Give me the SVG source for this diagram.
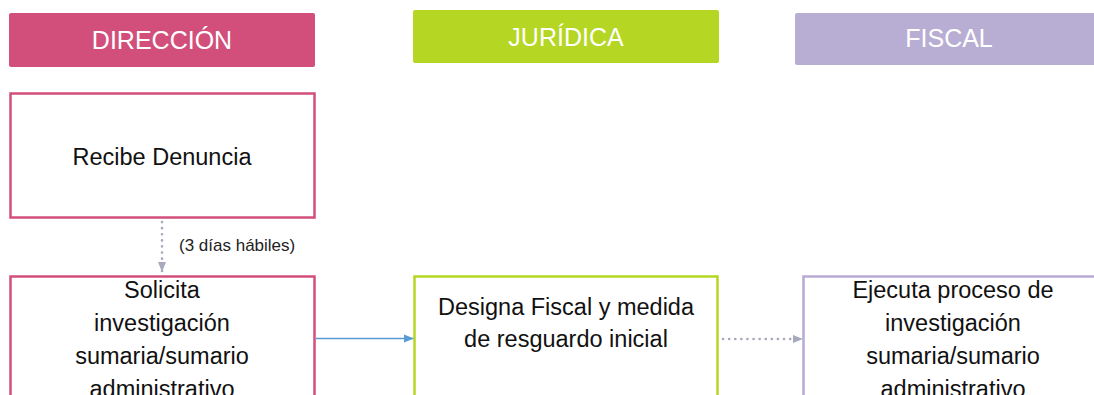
<svg xmlns="http://www.w3.org/2000/svg" width="1094" height="395" viewBox="0 0 1094 395">
<style>
.hdr{font-family:"Liberation Sans",Arial,sans-serif;font-size:25px;fill:#ffffff;text-anchor:middle}
.txt{font-family:"Liberation Sans",Arial,sans-serif;font-size:23.5px;fill:#111111;text-anchor:middle}
.lbl{font-family:"Liberation Sans",Arial,sans-serif;font-size:17px;fill:#222222}
.box{fill:#ffffff;stroke-width:2.5}
.pink{stroke:#D24F7C}
.green{stroke:#B5D623}
.purple{stroke:#B7ABD4}
</style>
<defs>
<marker id="arrBlue" markerWidth="10" markerHeight="10" refX="9" refY="5" orient="auto" markerUnits="userSpaceOnUse">
<path d="M0,1 L10,5 L0,9 Z" fill="#5B9BD5"/>
</marker>
<marker id="arrGray" markerWidth="10" markerHeight="10" refX="9" refY="5" orient="auto" markerUnits="userSpaceOnUse">
<path d="M0,1 L10,5 L0,9 Z" fill="#A7A9BC"/>
</marker>
</defs>
<rect width="1094" height="395" fill="#ffffff"/>
<g id="hdr-direccion">
<rect x="9" y="13" width="306" height="54" rx="2" fill="#D24F7C"/>
<text class="hdr" x="162" y="49">DIRECCIÓN</text>
</g>
<g id="hdr-juridica">
<rect x="413" y="10" width="306" height="53" rx="2" fill="#B5D623"/>
<text class="hdr" x="566" y="46">JURÍDICA</text>
</g>
<g id="hdr-fiscal">
<rect x="795" y="13" width="310" height="52" rx="2" fill="#B8AED3"/>
<text class="hdr" x="949" y="47">FISCAL</text>
</g>
<g id="recibe">
<rect class="box pink" x="10.5" y="93.5" width="304" height="124"/>
<text class="txt" x="162" y="165">Recibe Denuncia</text>
</g>
<g id="solicita">
<rect class="box pink" x="10.5" y="276.5" width="304" height="140"/>
<text class="txt" x="162" y="298">Solicita</text>
<text class="txt" x="162" y="331">investigación</text>
<text class="txt" x="162" y="364">sumaria/sumario</text>
<text class="txt" x="162" y="397">administrativo</text>
</g>
<g id="designa">
<rect class="box green" x="414.5" y="276.5" width="303" height="140"/>
<text class="txt" x="566" y="315">Designa Fiscal y medida</text>
<text class="txt" x="566" y="347">de resguardo inicial</text>
</g>
<g id="ejecuta">
<rect class="box purple" x="803.5" y="276.5" width="300" height="140"/>
<text class="txt" x="953" y="298">Ejecuta proceso de</text>
<text class="txt" x="953" y="331">investigación</text>
<text class="txt" x="953" y="364">sumaria/sumario</text>
<text class="txt" x="953" y="397">administrativo</text>
</g>
<g id="connectors">
<line x1="162" y1="222" x2="162" y2="271" stroke="#A7A9BC" stroke-width="2.6" stroke-dasharray="0.1 6" stroke-linecap="round" marker-end="url(#arrGray)"/>
<text class="lbl" x="179" y="251">(3 días hábiles)</text>
<line x1="316" y1="338.5" x2="413" y2="338.5" stroke="#5B9BD5" stroke-width="1.5" marker-end="url(#arrBlue)"/>
<line x1="723" y1="339" x2="802" y2="339" stroke="#A7A9BC" stroke-width="2.6" stroke-dasharray="0.1 6" stroke-linecap="round" marker-end="url(#arrGray)"/>
</g>
</svg>
